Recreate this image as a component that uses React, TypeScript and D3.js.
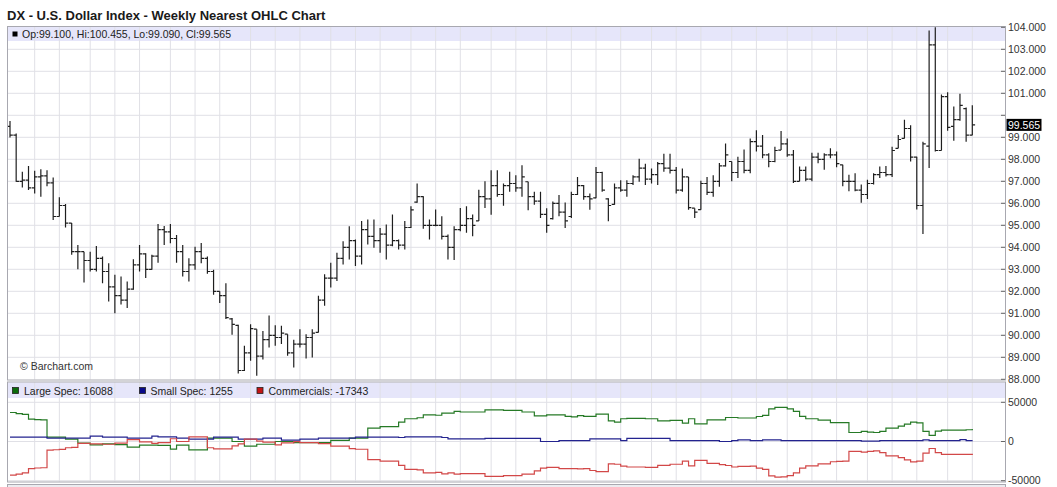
import React from "react";
import * as d3 from "d3";

const TITLE = "DX - U.S. Dollar Index - Weekly Nearest OHLC Chart";
const PRICE_LEGEND = "Op:99.100, Hi:100.455, Lo:99.090, Cl:99.565";
const LAST_PRICE = 99.565;

// weekly OHLC, 157 bars
const opens = [
  99.5, 99.1, 97.0, 97.05, 96.7, 97.2, 97.25, 96.93, 95.4, 95.9,
  95.1, 93.8, 93.8, 93.4, 93.0, 93.5, 92.9, 92.2, 91.8, 91.6,
  92.1, 93.2, 93.7, 93.0, 93.6, 94.8, 94.7, 94.4, 93.8, 92.9,
  93.2, 93.8, 93.5, 92.9, 92.0, 91.8, 90.75, 90.45, 88.4, 89.2,
  90.28, 89.05, 89.8, 90.0, 89.9, 90.05, 89.2, 89.6, 89.6, 89.9,
  90.13, 91.6, 92.6, 92.6, 93.5, 94.0, 94.3, 93.6, 94.8, 94.5,
  94.3, 94.6, 94.1, 94.3, 94.1, 94.9, 96.05, 96.3, 95.0, 95.0,
  95.0, 94.5, 94.0, 94.8, 95.0, 95.3, 95.2, 96.3, 96.2, 96.8,
  96.4, 96.8, 96.9, 96.7, 96.98, 96.3, 96.1, 95.5, 95.3, 96.0,
  95.6, 95.4, 96.4, 96.8, 96.3, 96.25, 97.4, 96.2, 95.95, 96.7,
  96.6, 96.9, 97.2, 97.6, 97.1, 97.3, 97.8, 97.6, 97.5, 96.6,
  97.2, 95.78, 95.71, 96.9, 96.5, 97.0, 97.7, 97.9, 97.4, 97.9,
  97.5, 98.8, 98.6, 98.2, 97.9, 98.42, 98.7, 98.2, 97.0, 97.5,
  97.1, 98.1, 98.0, 98.2, 98.2, 97.75, 97.0, 97.0, 96.6, 96.4,
  96.9, 97.3, 97.4, 97.3, 98.5, 98.95, 99.4, 98.1, 95.9, 98.6,
  103.2, 98.4, 100.85, 99.5, 99.8, 100.3, 99.1,
];
const highs = [
  99.74, 99.17, 97.43, 97.7, 97.48, 97.55, 97.5, 97.17, 96.27, 95.97,
  95.1, 94.1, 93.8, 93.8, 94.06, 93.58, 93.28, 92.75, 92.67, 92.45,
  93.46, 94.1, 93.73, 93.66, 95.06, 94.97, 95.06, 94.56, 94.1, 93.5,
  94.03, 94.2, 93.58, 92.98, 92.0, 92.37, 90.79, 90.48, 89.52, 90.5,
  90.28, 90.2, 90.9, 90.46, 90.43, 90.05, 89.8, 90.28, 90.05, 90.28,
  91.8, 92.77, 93.3, 93.75, 94.28, 94.96, 94.36, 95.19, 95.26, 95.26,
  94.88, 95.04, 95.49, 94.36, 95.19, 95.87, 96.9, 96.32, 95.26, 95.72,
  95.41, 94.58, 94.96, 95.79, 95.87, 95.49, 96.62, 97.0, 97.5, 97.5,
  96.9, 97.43, 97.28, 97.73, 96.98, 96.53, 96.53, 95.78, 96.08, 96.38,
  96.04, 96.53, 97.2, 96.83, 96.45, 97.65, 97.43, 96.23, 96.9, 97.05,
  97.05, 97.28, 98.03, 97.8, 97.58, 97.88, 98.25, 98.25, 97.65, 97.58,
  97.2, 95.78, 97.02, 97.2, 97.28, 97.83, 98.72, 97.9, 98.12, 98.45,
  98.95, 99.32, 99.1, 98.27, 98.57, 99.29, 98.95, 98.42, 97.67, 97.67,
  98.3, 98.3, 98.27, 98.5, 98.35, 97.75, 97.3, 97.37, 96.85, 97.07,
  97.37, 97.67, 97.7, 98.57, 99.1, 99.8, 99.55, 98.12, 98.8, 103.85,
  104.0, 100.95, 101.05, 100.4, 100.98, 100.35, 100.455,
];
const lows = [
  98.99, 96.98, 96.72, 96.6, 96.45, 96.3, 96.78, 95.24, 95.4, 94.9,
  93.66, 93.0, 92.4, 92.9, 92.9, 92.37, 91.54, 91.0, 91.4, 91.24,
  92.07, 92.9, 92.6, 92.98, 93.3, 94.1, 94.18, 93.3, 92.67, 92.45,
  92.98, 93.28, 92.8, 91.84, 91.47, 90.74, 90.03, 88.26, 88.38, 88.84,
  88.16, 88.9, 89.45, 89.52, 89.6, 89.07, 88.54, 89.45, 88.95, 88.99,
  90.13, 91.34, 92.17, 92.47, 93.22, 93.45, 93.15, 93.22, 94.13, 93.98,
  93.75, 93.45, 94.05, 93.9, 93.9, 94.88, 96.02, 94.84, 94.36, 94.96,
  94.36, 93.45, 93.42, 94.73, 94.66, 94.5, 95.19, 95.79, 95.48, 96.3,
  95.89, 96.53, 96.53, 96.3, 95.68, 95.93, 95.33, 94.66, 95.26, 95.41,
  94.88, 95.33, 96.38, 96.16, 95.71, 96.23, 96.53, 95.18, 95.93, 96.53,
  96.3, 96.83, 96.98, 96.83, 96.9, 96.83, 97.43, 97.35, 96.45, 96.53,
  95.71, 95.33, 95.71, 96.38, 96.3, 96.75, 97.67, 97.0, 97.15, 97.37,
  97.37, 98.35, 98.05, 97.64, 97.87, 98.42, 98.12, 96.92, 97.0, 97.0,
  97.0, 97.82, 97.52, 98.05, 97.64, 96.77, 96.55, 96.55, 96.02, 96.2,
  96.85, 97.15, 97.22, 97.2, 98.5, 98.95, 97.9, 95.72, 94.6, 97.6,
  98.35, 98.4, 99.3, 98.84, 99.75, 98.8, 99.09,
];
const closes = [
  99.1, 97.0, 97.05, 96.7, 97.2, 97.25, 96.93, 95.4, 95.9, 95.1,
  93.8, 93.8, 93.4, 93.0, 93.5, 92.9, 92.2, 91.8, 91.6, 92.1,
  93.2, 93.7, 93.0, 93.6, 94.8, 94.7, 94.4, 93.8, 92.9, 93.2,
  93.8, 93.5, 92.9, 92.0, 91.8, 90.8, 90.5, 88.4, 89.2, 90.3,
  89.05, 89.8, 90.0, 89.9, 90.1, 89.2, 89.6, 89.6, 89.9, 90.1,
  91.6, 92.6, 92.6, 93.5, 94.0, 94.3, 93.6, 94.8, 94.5, 94.3,
  94.6, 94.1, 94.3, 94.1, 94.9, 95.7, 96.3, 95.0, 95.0, 95.0,
  94.5, 94.0, 94.8, 95.0, 95.3, 95.0, 96.3, 96.2, 96.8, 96.4,
  96.8, 96.9, 96.7, 97.2, 96.3, 96.1, 95.5, 95.0, 96.0, 95.6,
  95.2, 96.4, 96.8, 96.3, 96.2, 97.4, 96.6, 95.9, 96.7, 96.6,
  96.9, 97.2, 97.6, 97.1, 97.3, 97.8, 97.6, 97.5, 96.6, 97.2,
  95.8, 95.6, 96.9, 96.5, 97.0, 97.7, 98.2, 97.4, 97.9, 97.5,
  98.8, 98.6, 98.2, 97.9, 98.4, 98.7, 98.2, 97.0, 97.5, 97.1,
  98.1, 98.0, 98.2, 98.2, 97.8, 97.0, 97.0, 96.6, 96.4, 96.9,
  97.3, 97.4, 97.3, 98.4, 98.9, 99.4, 98.1, 95.9, 98.7, 103.2,
  98.4, 100.85, 99.45, 99.8, 100.45, 99.1, 99.565,
];

// Commitment of traders, net positions per week
const largeSpec = [
  37000, 35500, 34500, 28500, 28000, 27700, 5600, 5600, 5600, 3000,
  3000, -2000, -2000, -4200, -4200, -3000, -3000, -4000, -4000, -7200,
  -7200, -4500, -4500, -4500, -5000, -5000, -9800, -4500, -4500, -10600,
  -10600, -10600, 4300, 4300, 4300, 4300, 0, 0, -6000, -6000,
  -3500, -3500, -3500, 0, 0, 0, -1500, -1500, -1500, -1500,
  -1500, -1500, 1500, 1500, 1500, 4300, 4300, 4300, 17100, 17100,
  19100, 19100, 19100, 24700, 29000, 29000, 30300, 34000, 34000, 33500,
  36200, 36200, 38300, 37600, 37600, 37600, 37600, 40400, 40400, 40400,
  39600, 39600, 39600, 37600, 37600, 32800, 32800, 34000, 34000, 34000,
  32000, 31500, 33000, 32000, 32000, 34900, 34900, 26400, 24700, 29000,
  29500, 29500, 29500, 29000, 29000, 26400, 26400, 27000, 27000, 23400,
  29000, 22600, 22600, 27700, 27700, 27700, 30600, 30600, 30000, 30000,
  30000, 31900, 33200, 41700, 43400, 43400, 41700, 38300, 32000, 29000,
  29000, 27300, 27300, 24200, 24200, 24200, 11500, 11500, 13000, 12000,
  11500, 13000, 17100, 17100, 19500, 22200, 24700, 23800, 12800, 7700,
  13300, 14500, 14500, 14500, 14500, 15000, 16088,
];
const smallSpec = [
  5600, 5600, 5600, 5600, 5600, 5600, 4300, 4300, 4300, 4300,
  4300, 4300, 4300, 6900, 6900, 5600, 5600, 5600, 5600, 4300,
  4300, 4300, 4300, 6900, 6000, 6000, 6000, 4300, 4300, 3000,
  3000, 3000, 3000, 5600, 5600, 5600, 5600, 3000, 3000, 3000,
  3000, 4300, 4300, 4300, 1700, 1700, 1700, 3000, 3000, 3000,
  4300, 4300, 4300, 4300, 4300, 4300, 5600, 5600, 5600, 5600,
  5600, 5600, 5600, 5100, 6000, 6000, 6000, 6000, 6000, 6000,
  5100, 3400, 3400, 3400, 3400, 3400, 3400, 4000, 4000, 4000,
  4000, 4000, 4000, 4000, 4000, 4000, 0, 0, 0, 1200,
  1200, 1200, 1200, 1200, 3400, 3400, 3400, 3400, 3400, 1200,
  4000, 4000, 4000, 4000, 4000, 4000, 4000, 1200, 1200, 1200,
  1200, 1200, 1200, 1200, 1200, 0, 0, 1200, 2000, 2000,
  1200, 1200, 2000, 2000, 2000, 1200, 1200, 1200, 1200, 1200,
  1200, 1200, 1200, 1200, 1200, 1200, 1200, 1200, 500, 500,
  500, 1200, 1200, 1200, 1200, 1200, 1200, 1200, 2000, 1200,
  1200, 1200, 1200, 1200, 2500, 1200, 1255,
];
const commercials = [
  -43000, -41500, -40000, -34500, -33800, -33500, -11000, -10500, -10000, -8000,
  -7500, -2500, -2500, -3000, -3000, -3500, -3500, -2000, -2000, 2500,
  2500, -500, -500, -2500, -1500, -1500, 3500, 0, 0, 6000,
  6000, 6000, -8000, -9500, -9500, -9500, -5600, -3000, 3000, 3000,
  500, -800, -800, -4300, -1700, -1700, -200, -1500, -1500, -1500,
  -2800, -2800, -5800, -5800, -5800, -9000, -9900, -9900, -23000, -23000,
  -25000, -25000, -25000, -30500, -35500, -35500, -36300, -40000, -40000, -39500,
  -41300, -40000, -41700, -41000, -41000, -41000, -41000, -44500, -44500, -44500,
  -43600, -43600, -43600, -41600, -41600, -37500, -34000, -33000, -33000, -34500,
  -34500, -34500, -35000, -34500, -37000, -38500, -38500, -28500, -29000, -31500,
  -32500, -32500, -32500, -33000, -33000, -30500, -30500, -29000, -29000, -25000,
  -31000, -24000, -24000, -28000, -28000, -29500, -30600, -32500, -31800, -31800,
  -31300, -34000, -35500, -43800, -45500, -45000, -43500, -40000, -34000, -31000,
  -31000, -28500, -28500, -25800, -25400, -25000, -12700, -12700, -13500, -12500,
  -12000, -14200, -18300, -18300, -20500, -23400, -25900, -25000, -14800, -8900,
  -14200, -16500, -16500, -16500, -16500, -16500, -17343,
];

// first weekly bar of each month (1-based bar number)
const monthStartBars = [
  5, 9, 14, 18, 22, 27, 31, 35, 40, 44, 48, 53, 57, 61, 66, 70, 74, 79,
  83, 88, 92, 96, 100, 105, 109, 113, 118, 122, 127, 131, 135, 140, 144,
  148, 153, 157,
];
const priceTicks = [88, 89, 90, 91, 92, 93, 94, 95, 96, 97, 98, 99, 100, 101, 102, 103, 104];
const cotTicks = [50000, 0, -50000];

const cotSeries = [
  { name: "Large Spec", values: largeSpec, line: "#267a26", swatch: "#0b6b0b" },
  { name: "Small Spec", values: smallSpec, line: "#23238f", swatch: "#0a0a8a" },
  { name: "Commercials", values: commercials, line: "#d24848", swatch: "#c41414" },
];

const FONT = "'Liberation Sans', Arial, Helvetica, sans-serif";

export default function App() {
  const W = 1057;
  const H = 487;
  const left = 8;
  const right = 1005;
  const topPanel = { top: 27, bottom: 379.5 };
  const botPanel = { top: 382.5, bottom: 481.5 };

  const n = closes.length;
  const x = d3.scaleLinear().domain([1, n]).range([10, 972.3]);
  const y = d3.scaleLinear().domain([88, 104]).range([379.3, 27.3]);
  const yc = d3.scaleLinear().domain([-50000, 50000]).range([480.7, 402.3]);

  const stepLine = d3
    .line<number>()
    .x((_, i) => x(i + 1))
    .y((d) => yc(d))
    .curve(d3.curveStepAfter);

  const lastY = y(LAST_PRICE);
  const gridColor = "#e0e0e6";
  const frameColor = "#a8a8b0";
  const tickW = 2.8;

  return (
    <svg
      width={W}
      height={H}
      viewBox={`0 0 ${W} ${H}`}
      style={{ position: "absolute", left: 0, top: 0, background: "#fff" }}
      fontFamily={FONT}
    >
      <defs>
        <clipPath id="clipTop">
          <rect x={left} y={topPanel.top} width={right - left} height={topPanel.bottom - topPanel.top} />
        </clipPath>
        <clipPath id="clipBot">
          <rect x={left} y={botPanel.top} width={right - left} height={botPanel.bottom - botPanel.top} />
        </clipPath>
      </defs>

      {/* title */}
      <text x={7} y={19.5} fontSize={13} fontWeight="bold" fill="#1a1a1a">
        {TITLE}
      </text>

      {/* top panel */}
      <rect x={left} y={topPanel.top} width={right - left} height={topPanel.bottom - topPanel.top} fill="#fff" />
      <rect x={left} y={topPanel.top} width={right - left} height={14} fill="#e6e6fa" />
      <g>
        {priceTicks.slice(1, -1).map((t) => (
          <line key={t} x1={left} x2={right} y1={y(t)} y2={y(t)} stroke={gridColor} strokeWidth={1} />
        ))}
        {monthStartBars.map((b) => (
          <line key={b} x1={x(b)} x2={x(b)} y1={topPanel.top} y2={topPanel.bottom} stroke={gridColor} strokeWidth={1} />
        ))}
      </g>
      <g clipPath="url(#clipTop)" stroke="#1e1e1e" strokeWidth={1.2}>
        {closes.map((c, i) => {
          const cx = x(i + 1);
          return (
            <g key={i}>
              <line x1={cx} x2={cx} y1={y(highs[i])} y2={y(lows[i])} />
              <line x1={cx - tickW} x2={cx} y1={y(opens[i])} y2={y(opens[i])} />
              <line x1={cx} x2={cx + tickW} y1={y(c)} y2={y(c)} />
            </g>
          );
        })}
      </g>
      <rect x={12.5} y={31.5} width={5} height={5} fill="#000" />
      <text x={22} y={38.3} fontSize={10.5} fill="#222">
        {PRICE_LEGEND}
      </text>
      <text x={20} y={370} fontSize={10.5} fill="#333">
        © Barchart.com
      </text>
      <rect
        x={left - 0.5}
        y={topPanel.top - 0.5}
        width={right - left + 1}
        height={topPanel.bottom - topPanel.top + 1}
        fill="none"
        stroke={frameColor}
        strokeWidth={1}
      />

      {/* right axis price */}
      <g fontSize={10.5} fill="#333">
        {priceTicks.map((t) => (
          <g key={t}>
            <line x1={right - 4} x2={right} y1={y(t)} y2={y(t)} stroke="#666" strokeWidth={1} />
            {Math.abs(y(t) - lastY) > 10 && (
              <text x={1008} y={y(t)} dy="0.35em">
                {t.toFixed(3)}
              </text>
            )}
          </g>
        ))}
      </g>
      <rect x={1006.5} y={lastY - 6} width={35} height={12} fill="#000" />
      <text x={1008} y={lastY} dy="0.35em" fontSize={10.5} fill="#fff">
        {LAST_PRICE.toFixed(3)}
      </text>

      {/* bottom panel */}
      <rect x={left} y={botPanel.top} width={right - left} height={botPanel.bottom - botPanel.top} fill="#fff" />
      <rect x={left} y={botPanel.top} width={right - left} height={15.5} fill="#e6e6fa" />
      <g>
        {cotTicks.map((t) => (
          <line key={t} x1={left} x2={right} y1={yc(t)} y2={yc(t)} stroke={gridColor} strokeWidth={1} />
        ))}
        {monthStartBars.map((b) => (
          <line key={b} x1={x(b)} x2={x(b)} y1={botPanel.top} y2={botPanel.bottom} stroke={gridColor} strokeWidth={1} />
        ))}
      </g>
      <g clipPath="url(#clipBot)" fill="none" strokeWidth={1.2}>
        {cotSeries.map((s) => (
          <path key={s.name} d={stepLine(s.values) || ""} stroke={s.line} />
        ))}
      </g>
      {cotSeries.map((s, k) => {
        const sx = [12.5, 139.5, 257][k];
        const tx = [24, 150.5, 268.5][k];
        const v = s.values[s.values.length - 1];
        return (
          <g key={s.name}>
            <rect x={sx} y={387.5} width={6} height={6} fill={s.swatch} stroke="#222" strokeWidth={0.8} />
            <text x={tx} y={394.5} fontSize={10.5} fill="#222">
              {`${s.name}: ${v}`}
            </text>
          </g>
        );
      })}
      <rect
        x={left - 0.5}
        y={botPanel.top - 0.5}
        width={right - left + 1}
        height={botPanel.bottom - botPanel.top + 1}
        fill="none"
        stroke={frameColor}
        strokeWidth={1}
      />
      <g fontSize={10.5} fill="#333">
        {cotTicks.map((t) => (
          <g key={t}>
            <line x1={right - 4} x2={right} y1={yc(t)} y2={yc(t)} stroke="#666" strokeWidth={1} />
            <text x={1008} y={yc(t)} dy="0.35em">
              {t}
            </text>
          </g>
        ))}
      </g>

      {/* next panel edge */}
      <rect x={left - 0.5} y={484.5} width={right - left + 1} height={4} fill="#ececf0" stroke={frameColor} strokeWidth={1} />
    </svg>
  );
}
